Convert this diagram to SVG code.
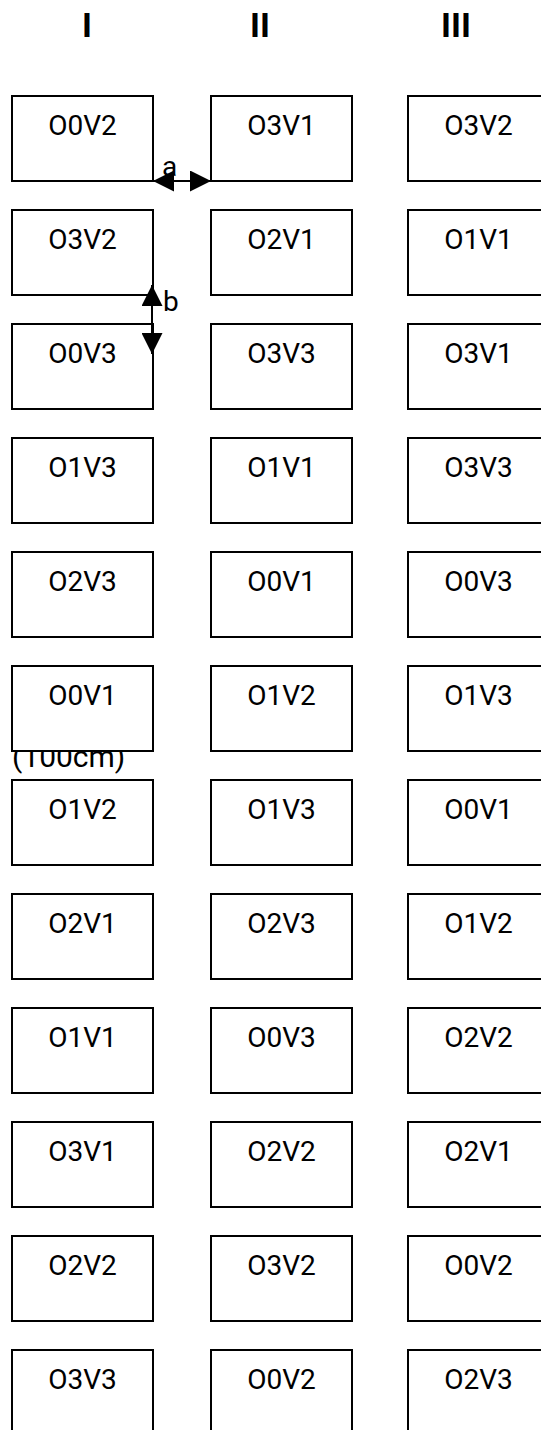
<svg xmlns="http://www.w3.org/2000/svg" width="541" height="1430" viewBox="0 0 541 1430">
<style>
.box{fill:#fff;stroke:#000;stroke-width:2}
.lbl{font-family:Roboto,"Liberation Sans",sans-serif;font-size:28px;fill:#000;text-anchor:middle}
.hdr{font-family:Roboto,"Liberation Sans",sans-serif;font-size:34px;font-weight:bold;fill:#000;text-anchor:middle}
.note{font-family:Roboto,"Liberation Sans",sans-serif;font-size:30px;fill:#000}
.conn{stroke:#000;stroke-width:2;fill:none}
</style>
<defs>
<marker id="ah" viewBox="0 0 21 21" refX="21" refY="10.5" markerWidth="21" markerHeight="21" markerUnits="userSpaceOnUse" orient="auto-start-reverse">
<path d="M0,0 L21,10.5 L0,21 Z" fill="#000"/>
</marker>
</defs>
<g id="headers">
<text class="hdr" x="87" y="37">I</text>
<text class="hdr" x="260" y="37">II</text>
<text class="hdr" x="456" y="37">III</text>
</g>
<text id="note" class="note" x="12" y="767">(100cm)</text>
<g id="col1">
<g id="n1_1"><rect class="box" x="12" y="96" width="141" height="85"/><text class="lbl" x="82.5" y="135">O0V2</text></g>
<g id="n1_2"><rect class="box" x="12" y="210" width="141" height="85"/><text class="lbl" x="82.5" y="249">O3V2</text></g>
<g id="n1_3"><rect class="box" x="12" y="324" width="141" height="85"/><text class="lbl" x="82.5" y="363">O0V3</text></g>
<g id="n1_4"><rect class="box" x="12" y="438" width="141" height="85"/><text class="lbl" x="82.5" y="477">O1V3</text></g>
<g id="n1_5"><rect class="box" x="12" y="552" width="141" height="85"/><text class="lbl" x="82.5" y="591">O2V3</text></g>
<g id="n1_6"><rect class="box" x="12" y="666" width="141" height="85"/><text class="lbl" x="82.5" y="705">O0V1</text></g>
<g id="n1_7"><rect class="box" x="12" y="780" width="141" height="85"/><text class="lbl" x="82.5" y="819">O1V2</text></g>
<g id="n1_8"><rect class="box" x="12" y="894" width="141" height="85"/><text class="lbl" x="82.5" y="933">O2V1</text></g>
<g id="n1_9"><rect class="box" x="12" y="1008" width="141" height="85"/><text class="lbl" x="82.5" y="1047">O1V1</text></g>
<g id="n1_10"><rect class="box" x="12" y="1122" width="141" height="85"/><text class="lbl" x="82.5" y="1161">O3V1</text></g>
<g id="n1_11"><rect class="box" x="12" y="1236" width="141" height="85"/><text class="lbl" x="82.5" y="1275">O2V2</text></g>
<g id="n1_12"><rect class="box" x="12" y="1350" width="141" height="85"/><text class="lbl" x="82.5" y="1389">O3V3</text></g>
</g>
<g id="col2">
<g id="n2_1"><rect class="box" x="211" y="96" width="141" height="85"/><text class="lbl" x="281.5" y="135">O3V1</text></g>
<g id="n2_2"><rect class="box" x="211" y="210" width="141" height="85"/><text class="lbl" x="281.5" y="249">O2V1</text></g>
<g id="n2_3"><rect class="box" x="211" y="324" width="141" height="85"/><text class="lbl" x="281.5" y="363">O3V3</text></g>
<g id="n2_4"><rect class="box" x="211" y="438" width="141" height="85"/><text class="lbl" x="281.5" y="477">O1V1</text></g>
<g id="n2_5"><rect class="box" x="211" y="552" width="141" height="85"/><text class="lbl" x="281.5" y="591">O0V1</text></g>
<g id="n2_6"><rect class="box" x="211" y="666" width="141" height="85"/><text class="lbl" x="281.5" y="705">O1V2</text></g>
<g id="n2_7"><rect class="box" x="211" y="780" width="141" height="85"/><text class="lbl" x="281.5" y="819">O1V3</text></g>
<g id="n2_8"><rect class="box" x="211" y="894" width="141" height="85"/><text class="lbl" x="281.5" y="933">O2V3</text></g>
<g id="n2_9"><rect class="box" x="211" y="1008" width="141" height="85"/><text class="lbl" x="281.5" y="1047">O0V3</text></g>
<g id="n2_10"><rect class="box" x="211" y="1122" width="141" height="85"/><text class="lbl" x="281.5" y="1161">O2V2</text></g>
<g id="n2_11"><rect class="box" x="211" y="1236" width="141" height="85"/><text class="lbl" x="281.5" y="1275">O3V2</text></g>
<g id="n2_12"><rect class="box" x="211" y="1350" width="141" height="85"/><text class="lbl" x="281.5" y="1389">O0V2</text></g>
</g>
<g id="col3">
<g id="n3_1"><rect class="box" x="408" y="96" width="141" height="85"/><text class="lbl" x="478.5" y="135">O3V2</text></g>
<g id="n3_2"><rect class="box" x="408" y="210" width="141" height="85"/><text class="lbl" x="478.5" y="249">O1V1</text></g>
<g id="n3_3"><rect class="box" x="408" y="324" width="141" height="85"/><text class="lbl" x="478.5" y="363">O3V1</text></g>
<g id="n3_4"><rect class="box" x="408" y="438" width="141" height="85"/><text class="lbl" x="478.5" y="477">O3V3</text></g>
<g id="n3_5"><rect class="box" x="408" y="552" width="141" height="85"/><text class="lbl" x="478.5" y="591">O0V3</text></g>
<g id="n3_6"><rect class="box" x="408" y="666" width="141" height="85"/><text class="lbl" x="478.5" y="705">O1V3</text></g>
<g id="n3_7"><rect class="box" x="408" y="780" width="141" height="85"/><text class="lbl" x="478.5" y="819">O0V1</text></g>
<g id="n3_8"><rect class="box" x="408" y="894" width="141" height="85"/><text class="lbl" x="478.5" y="933">O1V2</text></g>
<g id="n3_9"><rect class="box" x="408" y="1008" width="141" height="85"/><text class="lbl" x="478.5" y="1047">O2V2</text></g>
<g id="n3_10"><rect class="box" x="408" y="1122" width="141" height="85"/><text class="lbl" x="478.5" y="1161">O2V1</text></g>
<g id="n3_11"><rect class="box" x="408" y="1236" width="141" height="85"/><text class="lbl" x="478.5" y="1275">O0V2</text></g>
<g id="n3_12"><rect class="box" x="408" y="1350" width="141" height="85"/><text class="lbl" x="478.5" y="1389">O2V3</text></g>
</g>
<g id="connectors">
<text class="note" x="162" y="176" style="font-size:28px">a</text>
<line class="conn" x1="153" y1="181" x2="211" y2="181" marker-start="url(#ah)" marker-end="url(#ah)"/>
<line class="conn" x1="152" y1="285" x2="152" y2="354" marker-start="url(#ah)" marker-end="url(#ah)"/>
<text class="note" x="163" y="311" style="font-size:28px">b</text>
</g>
</svg>
